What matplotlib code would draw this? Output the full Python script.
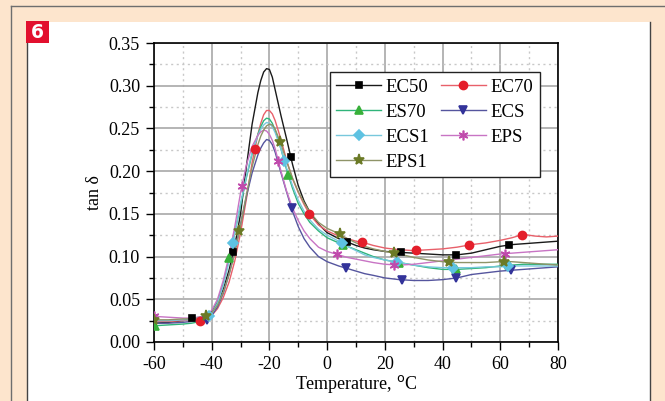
import numpy as np
import matplotlib.pyplot as plt
from matplotlib.lines import Line2D
from matplotlib.patches import Rectangle

# temperature grid (deg C) shared by all curves
temp = [-60, -55, -50, -47, -44, -42, -40, -38, -36, -34, -32, -30, -28, -26, -24, -23, -22, -21,
        -20, -19, -18, -16, -14, -12, -10, -8, -6, -3, 0, 4, 7, 10, 13, 16, 20, 25, 30, 35, 40,
        45, 50, 55, 60, 64, 68, 72, 76, 80]

ec50 = [0.022, 0.023, 0.025, 0.028, 0.029, 0.031, 0.036, 0.046, 0.062, 0.084, 0.113, 0.150, 0.205,
        0.255, 0.292, 0.306, 0.316, 0.320, 0.319, 0.310, 0.295, 0.265, 0.237, 0.208, 0.183, 0.165,
        0.152, 0.138, 0.128, 0.121, 0.117, 0.113, 0.110, 0.108, 0.106, 0.105, 0.104, 0.103, 0.102,
        0.102, 0.104, 0.108, 0.112, 0.114, 0.115, 0.116, 0.117, 0.118]
ec70 = [0.024, 0.024, 0.025, 0.025, 0.025, 0.027, 0.031, 0.039, 0.052, 0.070, 0.095, 0.128, 0.167,
        0.210, 0.243, 0.256, 0.266, 0.271, 0.271, 0.267, 0.259, 0.237, 0.212, 0.191, 0.175, 0.161,
        0.149, 0.137, 0.130, 0.124, 0.121, 0.118, 0.116, 0.113, 0.110, 0.108, 0.107, 0.108, 0.109,
        0.111, 0.114, 0.116, 0.119, 0.122, 0.126, 0.124, 0.123, 0.124]
es70 = [0.019, 0.020, 0.021, 0.022, 0.024, 0.027, 0.034, 0.047, 0.068, 0.097, 0.128, 0.160, 0.192,
        0.220, 0.243, 0.252, 0.259, 0.262, 0.261, 0.256, 0.248, 0.226, 0.201, 0.180, 0.162, 0.150,
        0.140, 0.130, 0.122, 0.116, 0.112, 0.108, 0.104, 0.100, 0.096, 0.093, 0.090, 0.087, 0.085,
        0.085, 0.086, 0.087, 0.089, 0.090, 0.091, 0.091, 0.091, 0.091]
ecs = [0.022, 0.022, 0.023, 0.024, 0.025, 0.025, 0.031, 0.041, 0.057, 0.079, 0.106, 0.138, 0.170,
       0.198, 0.219, 0.227, 0.233, 0.237, 0.236, 0.231, 0.222, 0.198, 0.175, 0.153, 0.135, 0.121,
       0.111, 0.100, 0.094, 0.089, 0.086, 0.083, 0.080, 0.078, 0.075, 0.073, 0.072, 0.072, 0.073,
       0.075, 0.079, 0.081, 0.083, 0.084, 0.085, 0.086, 0.087, 0.088]
ecs1 = [0.025, 0.025, 0.026, 0.026, 0.027, 0.028, 0.033, 0.045, 0.066, 0.094, 0.128, 0.162, 0.194,
        0.222, 0.242, 0.249, 0.254, 0.257, 0.256, 0.252, 0.245, 0.226, 0.203, 0.183, 0.166, 0.153,
        0.143, 0.132, 0.125, 0.118, 0.112, 0.107, 0.102, 0.099, 0.096, 0.093, 0.090, 0.088, 0.087,
        0.087, 0.087, 0.088, 0.088, 0.089, 0.089, 0.089, 0.089, 0.089]
eps = [0.030, 0.029, 0.028, 0.028, 0.029, 0.031, 0.037, 0.050, 0.072, 0.101, 0.135, 0.175, 0.207,
       0.229, 0.242, 0.246, 0.248, 0.247, 0.243, 0.236, 0.226, 0.200, 0.176, 0.157, 0.142, 0.130,
       0.121, 0.111, 0.106, 0.102, 0.099, 0.097, 0.095, 0.093, 0.091, 0.090, 0.091, 0.093, 0.095,
       0.097, 0.099, 0.101, 0.103, 0.104, 0.105, 0.106, 0.107, 0.108]
eps1 = [0.026, 0.026, 0.027, 0.027, 0.028, 0.030, 0.034, 0.043, 0.058, 0.079, 0.104, 0.137, 0.172,
        0.205, 0.231, 0.241, 0.248, 0.253, 0.255, 0.254, 0.249, 0.232, 0.211, 0.192, 0.176, 0.163,
        0.152, 0.140, 0.133, 0.127, 0.121, 0.116, 0.112, 0.109, 0.106, 0.103, 0.099, 0.096, 0.094,
        0.093, 0.093, 0.093, 0.094, 0.094, 0.093, 0.092, 0.091, 0.090]

# temperatures where each series shows a symbol
mk_ec50 = [-47, -32.5, -12.6, 7, 25.6, 44.5, 63]
mk_ec70 = [-44, -25, -6.2, 12.2, 30.8, 49, 67.6]
mk_es70 = [-59.6, -33.9, -13.5, 5.5, 25, 44.6, 63]
mk_ecs = [-41.7, -12.3, 6.5, 25.8, 44.6, 63.6]
mk_ecs1 = [-40.8, -32.7, -14.8, 5, 24.3, 43.5, 62.5]
mk_eps = [-60, -29.5, -16.9, 3.4, 23.3, 61.6]
mk_eps1 = [-60, -42, -30.4, -16.3, 4.4, 23.3, 42.3, 61.3]

names = ['EC50', 'EC70', 'ES70', 'ECS', 'ECS1', 'EPS', 'EPS1']

series = [
    (ec50, mk_ec50, '#1a1a1a', '#000000', 's', 4.6),
    (ec70, mk_ec70, '#e8606a', '#e41e2a', 'o', 5.8),
    (es70, mk_es70, '#2fb47a', '#38b03a', '^', 6.3),
    (ecs, mk_ecs, '#55559e', '#33339a', 'v', 6.3),
    (ecs1, mk_ecs1, '#78c8dc', '#5ec2e2', 'D', 4.8),
    (eps, mk_eps, '#c874c4', '#c04aac', (6, 2, 0), 7),
    (eps1, mk_eps1, '#8f9468', '#6b7a26', '*', 8),
]

plt.rcParams['font.family'] = ['Liberation Serif', 'DejaVu Serif']
plt.rcParams['axes.unicode_minus'] = False

fig = plt.figure(figsize=(6.65, 4.01), dpi=100)
fig.patch.set_facecolor('#fde5cd')

# white panel, border lines and the figure number badge
fig.add_artist(Rectangle((27 / 665, 0), (650 - 27) / 665, 1 - 22 / 401, transform=fig.transFigure,
                         facecolor='white', edgecolor='none', zorder=0))
fig.add_artist(Line2D([11 / 665, 11 / 665], [0, 1 - 6 / 401], transform=fig.transFigure, color='#6e6e6e', lw=1))
fig.add_artist(Line2D([11 / 665, 1], [1 - 6 / 401, 1 - 6 / 401], transform=fig.transFigure, color='#6e6e6e', lw=1))
fig.add_artist(Line2D([27 / 665, 27 / 665], [0, 1 - 43 / 401], transform=fig.transFigure, color='#444444', lw=1))
fig.add_artist(Line2D([650 / 665, 650 / 665], [0, 1 - 22 / 401], transform=fig.transFigure, color='#444444', lw=1))
fig.add_artist(Rectangle((26 / 665, 1 - 43 / 401), 23 / 665, 22 / 401, transform=fig.transFigure,
                         facecolor='#e2102e', edgecolor='none'))
fig.text(37.5 / 665, 1 - 32.5 / 401, '6', color='white', fontsize=13.5, fontweight='bold',
         family='DejaVu Sans', ha='center', va='center')

ax = fig.add_axes([154 / 665, 1 - 342 / 401, (558 - 154) / 665, (342 - 43) / 401])

handles = []
for (vals, mk_t, lc, mc, m, ms), name in zip(series, names):
    ax.plot(temp, vals, color=lc, lw=1.0, zorder=3)
    ax.plot(mk_t, np.interp(mk_t, temp, vals), ls='none', marker=m, ms=ms, color=mc,
            markeredgecolor=mc, mew=1.2, zorder=4)
    handles.append(Line2D([], [], color=lc, lw=1.0, marker=m, ms=ms, markerfacecolor=mc,
                          markeredgecolor=mc, mew=1.2, label=name))

ax.set_xlim(-60, 80)
ax.set_ylim(0, 0.35)
ax.set_xticks(np.arange(-60, 81, 20))
ax.set_xticks(np.arange(-50, 81, 20), minor=True)
ax.set_yticks(np.arange(0, 0.351, 0.05))
ax.set_yticks(np.arange(0.025, 0.35, 0.05), minor=True)
ax.yaxis.set_major_formatter(plt.FormatStrFormatter('%.2f'))
ax.grid(which='major', color='#a8a8a8', lw=1.2, zorder=0)
ax.grid(which='minor', color='#c8c8c8', lw=1, ls=(0, (1.5, 2.5)), zorder=0)
ax.set_axisbelow(True)
ax.tick_params(which='major', direction='out', length=6, width=1, labelsize=13, pad=4)
ax.tick_params(which='minor', direction='out', length=3.5, width=1)
for s in ax.spines.values():
    s.set_linewidth(1.2)

ax.set_xlabel('Temperature, $^{\\mathrm{o}}$C', fontsize=13, labelpad=0)
ax.set_ylabel('tan \u03b4', fontsize=13, labelpad=4)

order = [0, 2, 4, 6, 1, 3, 5]
leg = ax.legend([handles[i] for i in order], [names[i] for i in order], ncol=2, loc='upper right',
                bbox_to_anchor=(0.955, 0.903), borderaxespad=0, fontsize=13.5, fancybox=False,
                framealpha=1, edgecolor='#222222', handlelength=2.4, columnspacing=0.6,
                handletextpad=0.25, labelspacing=0.42, borderpad=0.35)
leg.get_frame().set_linewidth(1)

plt.savefig('out.png', dpi=100, facecolor=fig.get_facecolor())
